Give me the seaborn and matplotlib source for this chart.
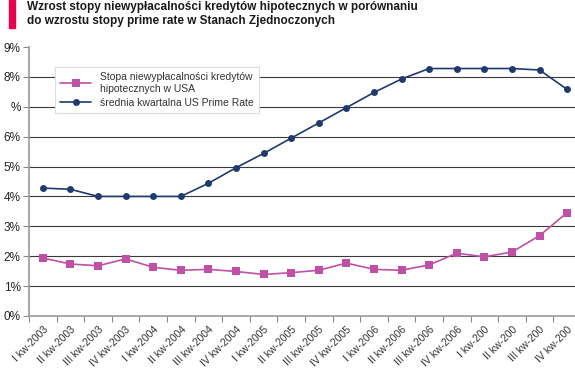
import matplotlib
matplotlib.use("Agg")
import matplotlib.pyplot as plt
import seaborn as sns
import numpy as np
import pandas as pd

categories = ["I kw-2003", "II kw-2003", "III kw-2003", "IV kw-2003",
              "I kw-2004", "II kw-2004", "III kw-2004", "IV kw-2004",
              "I kw-2005", "II kw-2005", "III kw-2005", "IV kw-2005",
              "I kw-2006", "II kw-2006", "III kw-2006", "IV kw-2006",
              "I kw-200", "II kw-200", "III kw-200", "IV kw-200"]
delinquency = [1.94, 1.74, 1.68, 1.91, 1.63, 1.53, 1.56, 1.49, 1.39, 1.45,
               1.53, 1.77, 1.56, 1.53, 1.71, 2.10, 1.98, 2.14, 2.69, 3.46]
prime_rate = [4.28, 4.24, 4.00, 4.00, 4.00, 4.00, 4.44, 4.96, 5.44, 5.95,
              6.46, 6.97, 7.48, 7.93, 8.28, 8.28, 8.28, 8.28, 8.23, 7.58]
ytick_labels = ["0%", "1%", "2%", "3%", "4%", "5%", "6%", "%", "8%", "9%"]
series_names = ["Stopa niewypłacalności kredytów\nhipotecznych w USA",
                "średnia kwartalna US Prime Rate"]
title_lines = ["Wzrost stopy niewypłacalności kredytów hipotecznych w porównaniu",
               "do wzrostu stopy prime rate w Stanach Zjednoczonych"]

sns.set_theme(style="white")
plt.rcParams['font.family'] = ['Liberation Sans', 'DejaVu Sans']

fig = plt.figure(figsize=(5.75, 3.72), dpi=100)
ax = fig.add_axes([29/575, 1-316/372, 552/575, (316-47)/372])

x = np.arange(len(categories))
df = pd.DataFrame({"x": np.concatenate([x, x]),
                   "y": delinquency + prime_rate,
                   "s": [series_names[0]]*len(x) + [series_names[1]]*len(x)})

pink = "#C04FA6"
navy = "#1E3A6E"
sns.lineplot(data=df[df.s == series_names[0]], x="x", y="y", ax=ax, color=pink,
             marker="s", markersize=5.5, markeredgewidth=0, linewidth=1.2,
             label=series_names[0])
sns.lineplot(data=df[df.s == series_names[1]], x="x", y="y", ax=ax, color=navy,
             marker="o", markersize=5, markeredgewidth=0, linewidth=1.2,
             label=series_names[1])

ax.set_xlim(-0.5, len(categories) - 0.5)
ax.set_ylim(0, 9)
for v in range(1, 9):
    ax.axhline(v, color="#3a3a3a", lw=0.8, zorder=0)

ax.set_yticks(range(10))
ax.set_yticklabels(ytick_labels, fontsize=8.5, color="#222222")
ax.set_xticks(x)
ax.set_xticklabels(categories, rotation=45, ha="right", rotation_mode="anchor",
                   fontsize=7.5, color="#333333")
ax.tick_params(axis="x", length=0, pad=6)
ax.tick_params(axis="y", left=True, length=4, width=0.8, color="#888888", pad=2)
ax.set_xticks(np.arange(-0.5, len(categories), 1), minor=True)
ax.tick_params(axis="x", which="minor", bottom=True, length=4, width=0.8, color="#888888")
ax.set_xlabel("")
ax.set_ylabel("")
for side in ["top", "right"]:
    ax.spines[side].set_visible(False)
for side in ["left", "bottom"]:
    ax.spines[side].set_color("#999999")
    ax.spines[side].set_linewidth(1.2)

leg = ax.legend(loc="upper left", bbox_to_anchor=(0.047, 0.926), fontsize=7.5,
                frameon=True, fancybox=False, handlelength=3, borderpad=0.5,
                labelspacing=0.4, borderaxespad=0)
leg.get_frame().set_edgecolor("#dddddd")
leg.get_frame().set_linewidth(0.8)
leg.get_frame().set_facecolor("white")
leg.get_frame().set_alpha(1)
for t in leg.get_texts():
    t.set_color("#333333")

fig.patches.append(plt.Rectangle((9/575, 1-28/372), 6/575, 28/372,
                                 transform=fig.transFigure, color="#E8004F"))
fig.text(27/575, 1-1/372, "\n".join(title_lines), ha="left", va="top",
         fontsize=8.5, fontweight="bold", color="#1a1a1a",
         family=["Liberation Sans Narrow", "Liberation Sans", "DejaVu Sans"],
         linespacing=1.2)

fig.savefig("out.png", dpi=100)
